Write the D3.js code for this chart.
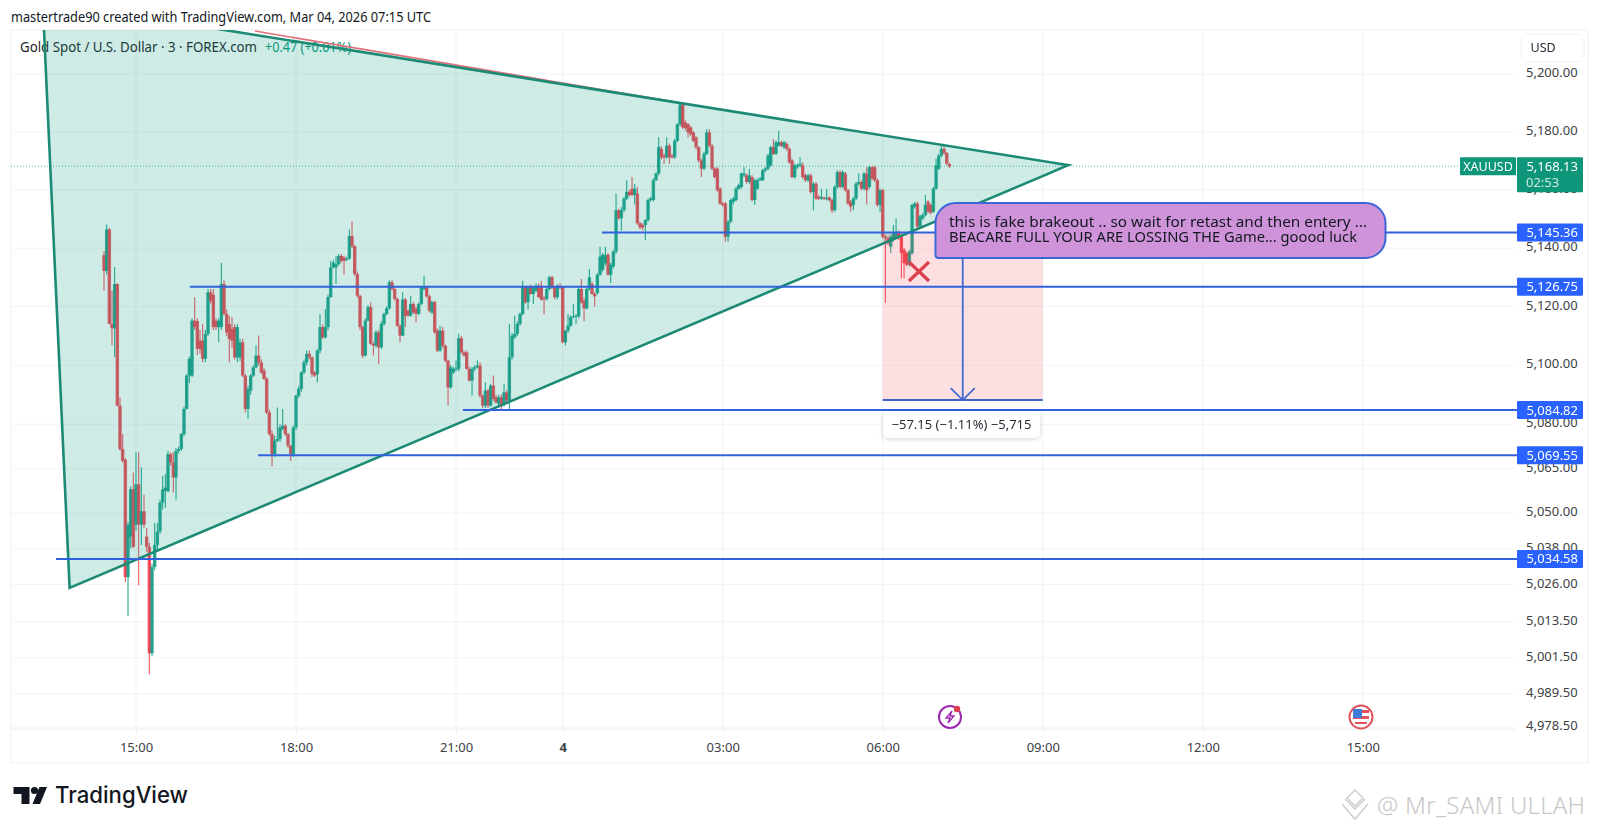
<!DOCTYPE html>
<html lang="en">
<head>
<meta charset="UTF-8">
<title>XAUUSD 3m triangle</title>
<style>
    body { margin: 0; background: #fff; font-family: 'Noto Sans', sans-serif; }
    svg { display: block; }
    .axis path { display: none; }
    .axis line { stroke: #eceef1; }
    .axis text { font-family: 'Noto Sans', sans-serif; fill: #3c3f46; font-size: 13px; }
</style>
</head>
<body>
<div id="chart"></div>
<script src="https://d3js.org/d3.v7.min.js"></script>
<script>
// candles, one row = 10 bars, bar 0 is 14:24 on Mar 3
var opens = [
5137.6,5132.2,5146.4,5114.1,5112.6,5127.7,5086.3,5071.6,5068,5028.5,
5042.1,5058,5046.1,5059.7,5046.1,5050.6,5042.1,5038.7,5003,5031.9,
5039.3,5043.8,5053.5,5057.4,5057.4,5069.9,5067.1,5062,5071,5071.6,
5076.7,5085.2,5096.5,5096.5,5115.2,5115,5108.4,5108.4,5102.2,5110.7,
5124.9,5124,5115.2,5113,5113,5127.7,5117.5,5114.1,5112.4,5113,
5102.7,5102.7,5107.8,5096.5,5085.2,5091.4,5096.5,5099.3,5103.3,5101,
5098.2,5095.4,5084,5076.7,5069.9,5074.4,5075,5078.4,5079.5,5076.7,
5072.7,5069.9,5078.9,5089.7,5092,5097.6,5101,5103.9,5102.7,5097.6,
5097,5105,5113,5109.5,5113,5123.2,5133.4,5133.4,5134.5,5137.3,
5136.8,5136.2,5136.4,5144.1,5140.7,5131.1,5123.7,5113,5103.3,5115.2,
5119.8,5107.3,5106.7,5111.2,5106.1,5114.1,5117.5,5119.4,5128.3,5126,
5122.6,5113.5,5110.1,5122.4,5118.6,5116.9,5120.9,5119.2,5117.5,5120.9,
5126,5126.6,5123.5,5118,5121.5,5111.8,5105,5111.8,5106.7,5101.6,
5092.5,5097.6,5098.8,5098.8,5109.2,5104.4,5104.4,5098.8,5094.8,5098.8,
5099.3,5099.9,5089.7,5086.3,5091.4,5086.3,5093.1,5089.1,5086.9,5089.1,
5086.9,5090.8,5088,5102.7,5109.5,5110.7,5114.1,5117.5,5126.6,5121.5,
5126.6,5124.3,5125.4,5127.1,5127.1,5122.8,5122.6,5126,5130,5126.6,
5123.2,5127.1,5126.6,5107.8,5111.8,5113.5,5116.4,5116.7,5116.7,5126,
5122,5119.4,5126,5127.7,5124.3,5124.6,5130.9,5132.6,5134.8,5137.7,
5130.9,5133.7,5138.8,5153,5150.2,5153,5157,5159.3,5160.4,5158.2,
5158.7,5148.5,5147.9,5147.9,5149.6,5156.5,5156.5,5163.3,5165.6,5174.1,
5171.8,5171.2,5175.2,5171.8,5171.2,5176.9,5182.6,5189.4,5183.2,5182.6,
5181.5,5179.8,5178.1,5174.7,5170.1,5167.3,5172.4,5179.8,5175.2,5167.3,
5167.3,5160.4,5155.3,5155.3,5143.9,5149.1,5155.9,5156.5,5160.4,5161,
5165,5165,5162.7,5164.4,5156.5,5160.4,5163.3,5163.3,5166.7,5167.3,
5168.4,5174.7,5172.4,5175.2,5176.4,5174.7,5175.8,5174.1,5170.1,5164.4,
5167.8,5168.4,5168.4,5165,5163.3,5165,5159.3,5162.1,5157.6,5157,
5157.3,5156.8,5157.3,5156.5,5153,5161,5166.1,5161,5165.6,5159.9,
5155.9,5154.8,5157,5162.1,5162.7,5160.4,5165.6,5161,5167.8,5167.8,
5163.3,5154.8,5159.9,5143.9,5143.4,5140.5,5142.8,5143.4,5145.6,5143.9,
5139.4,5138.3,5134.3,5138.3,5154.2,5155.3,5147.4,5150.2,5151.3,5155.9,
5154.8,5152.5,5160.4,5167.3,5171.8,5174.1,5172.7,5168.9
];
var highs = [
5139,5148.1,5147,5125.4,5133.4,5128,5089.1,5076.7,5068.5,5047,
5059,5063.7,5070.5,5070.5,5065.4,5056.3,5045,5040,5033,5046.7,
5046.7,5054.5,5062.5,5063.1,5071,5070.5,5070.5,5072,5072.5,5077,
5086,5097,5103,5116,5123.2,5116,5112,5114,5112,5126,
5126,5126,5116,5116,5135,5129,5119,5116.9,5116.4,5114,
5114,5109,5109,5097,5093,5097,5100,5106.7,5110.1,5102,
5099,5096,5085,5078,5076,5085.7,5080,5085.2,5080,5077,
5073,5079.5,5090,5093,5098,5102,5105,5105,5103,5098,
5105.5,5117.5,5114,5119.2,5124,5135.6,5136,5137.3,5138,5138,
5137.5,5137,5146.4,5149.2,5141,5132,5124,5113.5,5116,5120.5,
5121.5,5108,5112,5112,5115,5118,5120,5129,5129,5126.5,
5123,5114,5124.9,5123,5119,5123.7,5121.5,5120,5121.5,5127,
5130.5,5127,5124,5122,5122,5112.5,5113.5,5113,5107,5102,
5100,5099.5,5101.6,5110.7,5110,5105,5105,5099.5,5099.5,5100,
5101.6,5101,5090,5094.2,5092,5093.7,5096.5,5090,5090,5090,
5093.7,5091.5,5114.1,5111,5116.9,5115,5118,5128.8,5127,5127,
5127.5,5127,5128,5128,5128.8,5123.5,5126.5,5130.5,5130.5,5127,
5127.5,5128,5127,5112,5117.5,5117,5120.9,5117.5,5127,5129.4,
5123,5126.5,5132.8,5128.5,5125,5131.5,5140.5,5138.3,5140.5,5138.3,
5135,5139.4,5158.7,5153.5,5154,5157.5,5163.3,5160,5164.4,5162,
5161,5149,5148.5,5150,5157,5157.6,5164,5166,5178.1,5175,
5172.5,5178.1,5176,5172.4,5177.5,5183,5190,5190.2,5184,5183,
5182,5180.3,5178.5,5175,5170.7,5173,5180.9,5180.9,5175.8,5167.8,
5167.8,5161,5155.9,5155.9,5149.6,5157,5157.6,5161,5162.1,5166,
5167.8,5165.6,5167.3,5165,5163.9,5163.9,5164.4,5167.3,5167.8,5172.4,
5175.2,5177.5,5177,5180.3,5176.9,5176.9,5176.4,5174.7,5170.7,5169,
5169,5171.2,5169.5,5165.6,5165.6,5165.6,5162.7,5162.7,5158.2,5160.4,
5157.6,5160.4,5157.8,5157,5161.6,5166.7,5166.7,5166.7,5166.1,5160.4,
5156.5,5157.6,5162.7,5165.6,5163.3,5166.1,5167.8,5168.4,5168.4,5168.4,
5163.9,5160.4,5160.4,5144.5,5144,5144.5,5147.9,5150.2,5146,5144.5,
5140,5138.8,5139.4,5155.3,5155.9,5155.9,5151.4,5152,5158.2,5156.5,
5155.3,5161,5170.7,5172.4,5175.9,5175.9,5173,5169.3
];
var lows = [
5125.4,5131,5114,5106.7,5102.7,5086,5071,5067,5026.8,5015.5,
5038.2,5038.2,5044,5025.7,5039.3,5045,5037,4996,5002,5030.8,
5037.6,5043,5051.2,5051.8,5056.9,5066,5056.9,5054.6,5070,5071,
5076,5085,5094,5096,5112,5103.5,5104,5101,5101,5110,
5121,5112,5112,5107.8,5112,5117,5110,5101,5106,5102,
5101,5101.5,5096,5084,5081.8,5090,5096,5099,5100,5097,
5095,5083.5,5076,5065.9,5069,5074,5074,5078,5076,5072,
5067.6,5069,5078,5089,5091,5097,5100,5102,5096,5096,
5094.2,5104,5109,5109,5112,5123,5133,5127.7,5134,5135,
5131,5135.5,5136,5140,5130.5,5123,5112,5102.5,5103,5115,
5107,5103.3,5106,5100.5,5105.5,5113.5,5117,5119,5125.5,5122,
5113,5107.8,5110,5113,5116.5,5116.5,5117.5,5114.7,5117,5120.5,
5125.5,5123,5118,5117.5,5110.8,5104.5,5104.5,5106,5101,5086.3,
5092,5097,5098,5098,5104,5103,5098.5,5094.5,5089.7,5098,
5099,5089,5085.5,5085.5,5085.5,5086,5088,5087,5086,5084.5,
5086,5087.5,5085.2,5102,5109,5110,5113.5,5117,5121,5119,
5124,5120.9,5125,5123,5122,5117.5,5122,5125.5,5126,5122.5,
5122.5,5126,5107.5,5106.7,5111,5113,5116,5114.1,5116,5121,
5115,5119,5125.5,5124,5120,5124,5130.5,5132,5134,5130.5,
5128,5133,5138,5149.8,5146,5152.5,5156.5,5157.8,5157.8,5155,
5148,5146.5,5146,5142.8,5149,5156,5156,5163,5165,5170.5,
5169,5170.7,5169,5170.7,5170.7,5176.5,5182,5181,5180.5,5178,
5178.5,5176.4,5174,5169.5,5164.4,5166.7,5172,5174.7,5166.7,5163.9,
5159.3,5154.8,5154.2,5142.2,5142.2,5148.5,5155,5156,5160,5160.5,
5164.4,5162.1,5162.1,5156,5154.8,5160,5163,5163,5166.1,5166.7,
5168,5172,5172,5175,5174.7,5174.1,5173.5,5169,5163.9,5163.9,
5167.3,5167.8,5163.9,5162.7,5162.7,5158.7,5153,5156.5,5156.5,5156.5,
5156.5,5156.3,5156,5152,5152.5,5160.5,5160.5,5160.5,5159.3,5154.8,
5152.5,5153,5156.5,5161.6,5159.9,5159.9,5155,5160.4,5163.3,5162.7,
5154.2,5152.5,5143.4,5121.3,5141,5138.3,5142.2,5143,5142.8,5129.7,
5129.7,5133.7,5133.7,5137.7,5153.6,5146.8,5146.8,5149.6,5150.8,5152,
5151.5,5152,5160,5166.7,5171.2,5172,5168.5,5167.5
];
var closes = [
5132.2,5146.4,5114.1,5112.6,5127.7,5086.3,5071.6,5067.6,5028.5,5046.1,
5058,5038.7,5059.7,5046.1,5050.6,5046.1,5038.7,5003,5031.9,5039.3,
5043.8,5053.5,5058,5058.6,5069.9,5067.1,5062,5071,5071.6,5076.7,
5085.2,5096.5,5102.2,5115.2,5113,5105.6,5105.6,5102.2,5110.7,5124.9,
5122,5113,5113,5115.2,5127.7,5117.5,5111.2,5109,5108.4,5102.7,
5113,5107.8,5096.5,5085.2,5092,5096.5,5099.3,5103.3,5101,5097.6,
5095.4,5084,5076.7,5069.9,5074.4,5075,5078.9,5079.5,5076.7,5072.7,
5069.9,5078.9,5089.7,5092,5097.6,5101,5103.9,5102.7,5097,5096.5,
5105,5113,5109.5,5113,5123.2,5133.4,5135,5134.5,5137.3,5135.6,
5135.6,5136.4,5144.1,5140.7,5131.1,5123.7,5113,5103.3,5115.2,5119.8,
5107.3,5106.7,5111.2,5106.1,5114.1,5117.5,5119.4,5128.3,5126,5122.6,
5113.5,5110.1,5122.4,5116.9,5116.9,5120.9,5118,5117.5,5120.9,5126.6,
5126.6,5123.5,5118.6,5121.5,5111.2,5105,5111.8,5106.7,5101.6,5092.5,
5099.3,5098.8,5098.9,5109.2,5104.4,5103.3,5098.8,5094.8,5098.8,5099.3,
5099.9,5089.7,5086.3,5091.4,5086.3,5093.1,5088.6,5087.4,5089.1,5086.3,
5090.8,5088,5102.7,5110.1,5110.7,5114.1,5117.5,5126.6,5121.5,5126.6,
5124.3,5126.6,5127.1,5123.2,5122.4,5122.4,5126,5130,5126.6,5123.2,
5127.1,5126.6,5107.8,5111.8,5113.5,5116.4,5116.7,5116.9,5126,5121.5,
5119.4,5126,5130,5124.3,5123.5,5130.9,5137.1,5137.7,5137.7,5130.9,
5134.3,5138.8,5153,5150.2,5153,5157,5159.3,5158.2,5158.2,5160.4,
5148.5,5147.1,5147.1,5149.6,5156.5,5157,5163.3,5165.6,5174.7,5171.2,
5171.2,5175.2,5171.2,5171.2,5176.9,5182.6,5189.4,5181.5,5181.3,5179.8,
5179.2,5176.9,5174.7,5170.1,5167.3,5172.4,5179.8,5175.2,5167.3,5164.4,
5159.9,5155.3,5154.8,5143.9,5149.1,5156.5,5157,5160.4,5161.6,5165.6,
5165.6,5162.7,5165,5156.5,5163.3,5163.3,5163.9,5166.7,5167.3,5171.8,
5174.7,5172.4,5176.4,5176.4,5175.2,5176.4,5174.1,5169.5,5164.4,5168.4,
5168.4,5169,5164.4,5163.3,5165,5159.3,5162.1,5157,5157,5157.6,
5157,5157.3,5156.5,5153,5161,5166.1,5161,5166.1,5159.9,5155.3,
5154.2,5157,5162.1,5162.7,5160.4,5165.6,5159.9,5167.8,5163.9,5163.3,
5154.8,5159.9,5143.9,5143.4,5141.7,5143.9,5145.1,5145.6,5143.4,5138.3,
5134.8,5134.3,5138.8,5154.8,5155.3,5147.4,5150.8,5151.3,5154.8,5152.5,
5152.1,5160.4,5168.4,5171.8,5174.1,5172.7,5169,5168.13
];

// axes
var priceTicks = [5200,5180,5160,5140,5120,5100,5080,5065,5050,5038,5026,5013.5,5001.5,4989.5,4978.5];
var timeTicks = [12,72,132,172,232,292,352,412,472];
var timeLabels = ["15:00","18:00","21:00","4","03:00","06:00","09:00","12:00","15:00"];

// drawings: [bar, price]
var triangle = [[-23,5225.4],[361.6,5168.5],[-12.9,5024.9]];
var redTrend = [[56.6,5214.9],[216,5190]];
var levels = [5145.36,5126.75,5084.82,5069.55,5034.58];
var levelStarts = [186.7,32.2,134.6,57.8,-18];
var lastPrice = 5168.13;
var measureBars = [292,352];
var measurePrices = [5145.36,5088.21];
var measureText = "\u221257.15 (\u22121.11%) \u22125,715";
var noteLines = ["this is fake brakeout .. so wait for retast and then entery ...",
                 "BEACARE FULL YOUR ARE LOSSING THE Game... goood luck"];

var w = 1600, h = 829;
var pane = {left: 11, right: 1515, top: 30, bottom: 729, axisRight: 1588, axisBottom: 763};

var x = d3.scaleLinear().domain([0, 317]).range([104, 949.4]);
var y = d3.scaleLog().domain([5200, 4978.5]).range([74, 727]);
var fmt = d3.format(",.2f");

var svg = d3.select("#chart").append("svg").attr("width", w).attr("height", h);
var defs = svg.append("defs");

defs.append("clipPath").attr("id", "paneClip").append("rect")
    .attr("x", pane.left).attr("y", pane.top)
    .attr("width", pane.right - pane.left).attr("height", pane.bottom - pane.top);

var shadow = defs.append("filter").attr("id", "soft")
    .attr("x", "-10%").attr("y", "-30%").attr("width", "120%").attr("height", "170%");
shadow.append("feDropShadow").attr("dx", 0).attr("dy", 1).attr("stdDeviation", 2)
    .attr("flood-color", "#000").attr("flood-opacity", 0.18);

// the reference is a soft jpeg, candles blur into each other
defs.append("filter").attr("id", "blurry").append("feGaussianBlur").attr("stdDeviation", 0.4);

// frame
svg.append("rect").attr("x", pane.left).attr("y", pane.top)
    .attr("width", pane.axisRight - pane.left).attr("height", pane.axisBottom - pane.top)
    .attr("fill", "#fff").attr("stroke", "#eff0f3");
svg.append("line").attr("x1", pane.left).attr("x2", pane.right)
    .attr("y1", pane.bottom).attr("y2", pane.bottom).attr("stroke", "#eceef1");

// grid
svg.append("g").selectAll("line").data(priceTicks).join("line")
    .attr("x1", pane.left).attr("x2", pane.right)
    .attr("y1", d => y(d)).attr("y2", d => y(d)).attr("stroke", "#f3f4f6");
svg.append("g").selectAll("line").data(timeTicks).join("line")
    .attr("x1", d => x(d)).attr("x2", d => x(d))
    .attr("y1", pane.top).attr("y2", pane.bottom).attr("stroke", "#f3f4f6");

// axes
var pAxis = svg.append("g").attr("class", "axis").attr("transform", "translate(1518,0)")
    .call(d3.axisRight(y).tickValues(priceTicks).tickSize(0).tickPadding(8).tickFormat(fmt));
pAxis.selectAll("text").attr("transform", "translate(0,-1.5)");
var tAxis = svg.append("g").attr("class", "axis").attr("transform", "translate(0," + pane.bottom + ")")
    .call(d3.axisBottom(x).tickValues(timeTicks).tickSize(4).tickPadding(10)
        .tickFormat((d, i) => timeLabels[i]));
tAxis.selectAll("text").style("font-weight", (d, i) => timeLabels[i] == "4" ? 700 : 400);

// legend
svg.append("text").attr("x", 11).attr("y", 22).attr("font-size", 14).attr("fill", "#131722")
    .attr("textLength", 420).attr("lengthAdjust", "spacingAndGlyphs")
    .text("mastertrade90 created with TradingView.com, Mar 04, 2026 07:15 UTC");
svg.append("text").attr("x", 20).attr("y", 52).attr("font-size", 13.5).attr("fill", "#1f222b")
    .attr("textLength", 237).attr("lengthAdjust", "spacingAndGlyphs")
    .text("Gold Spot / U.S. Dollar \u00b7 3 \u00b7 FOREX.com");
svg.append("text").attr("x", 265).attr("y", 52).attr("font-size", 13.5).attr("fill", "#089981")
    .attr("textLength", 86).attr("lengthAdjust", "spacingAndGlyphs").text("+0.47 (+0.01%)");

var chart = svg.append("g").attr("clip-path", "url(#paneClip)");

// last price dotted line
chart.append("line").attr("x1", pane.left).attr("x2", pane.right)
    .attr("y1", y(lastPrice)).attr("y2", y(lastPrice))
    .attr("stroke", "#089981").attr("stroke-dasharray", "1,2").attr("opacity", 0.7);

// candles
var up = "#089981", down = "#f23645";
var candles = chart.append("g").attr("filter", "url(#blurry)")
    .selectAll("g").data(d3.range(closes.length)).join("g")
    .attr("fill", i => closes[i] >= opens[i] ? up : down)
    .attr("stroke", i => closes[i] >= opens[i] ? up : down);
candles.append("line")
    .attr("x1", i => x(i)).attr("x2", i => x(i))
    .attr("y1", i => y(Math.max(highs[i], opens[i], closes[i])))
    .attr("y2", i => y(Math.min(lows[i], opens[i], closes[i])))
    .attr("stroke-width", 1.1).attr("opacity", 0.85);
candles.append("rect")
    .attr("x", i => x(i) - 1.7).attr("width", 3.4)
    .attr("y", i => y(Math.max(opens[i], closes[i])))
    .attr("height", i => Math.max(1, Math.abs(y(opens[i]) - y(closes[i]))))
    .attr("stroke", "none").attr("opacity", 0.82);

// pink measure box
chart.append("rect")
    .attr("x", x(measureBars[0])).attr("width", x(measureBars[1]) - x(measureBars[0]))
    .attr("y", y(measurePrices[0])).attr("height", y(measurePrices[1]) - y(measurePrices[0]))
    .attr("fill", "#f23645").attr("opacity", 0.16);

// trend lines and triangle
var line = d3.line().x(d => x(d[0])).y(d => y(d[1]));
chart.append("path").attr("d", line(redTrend)).attr("stroke", "#e0707a")
    .attr("stroke-width", 1.6).attr("fill", "none");
chart.append("path").attr("d", line(triangle) + "Z")
    .attr("fill", "#089981").attr("fill-opacity", 0.2)
    .attr("stroke", "#1c8a74").attr("stroke-width", 2.6).attr("stroke-linejoin", "miter");

// blue levels
var blue = "#2f62dc";
chart.append("g").selectAll("line").data(levels).join("line")
    .attr("x1", (d, i) => x(levelStarts[i])).attr("x2", pane.right)
    .attr("y1", d => y(d)).attr("y2", d => y(d))
    .attr("stroke", blue).attr("stroke-width", 2);

// measure arrow
var mx = x((measureBars[0] + measureBars[1]) / 2);
var my = y(measurePrices[1]);
chart.append("line").attr("x1", x(measureBars[0])).attr("x2", x(measureBars[1]))
    .attr("y1", my).attr("y2", my).attr("stroke", "#3f63c4").attr("stroke-width", 2.2);
chart.append("line").attr("x1", mx).attr("x2", mx).attr("y1", y(measurePrices[0])).attr("y2", my)
    .attr("stroke", "#4069d2").attr("stroke-width", 1.8);
chart.append("path").attr("d", "M" + (mx - 12) + "," + (my - 12) + "L" + mx + "," + my + "L" + (mx + 12) + "," + (my - 12))
    .attr("fill", "none").attr("stroke", "#4069d2").attr("stroke-width", 1.8);

// measure label
svg.append("rect").attr("x", 883).attr("y", 411).attr("width", 157).attr("height", 27).attr("rx", 5)
    .attr("fill", "#fff").attr("filter", "url(#soft)");
svg.append("text").attr("x", 961.5).attr("y", 428.5).attr("text-anchor", "middle")
    .attr("font-size", 13).attr("fill", "#2a2e39").text(measureText);

// red cross
var cross = svg.append("g").attr("stroke", "#dc3f4d").attr("stroke-width", 3.2);
cross.append("line").attr("x1", 909).attr("y1", 262).attr("x2", 929).attr("y2", 281);
cross.append("line").attr("x1", 929).attr("y1", 262).attr("x2", 909).attr("y2", 281);

// callout
var p = d3.path(), bx0 = 935.5, bx1 = 1385.5, by0 = 203, by1 = 258, r = 20;
p.moveTo(bx0 + r, by0);
p.lineTo(bx1 - r, by0);
p.arcTo(bx1, by0, bx1, by0 + r, r);
p.lineTo(bx1, by1 - r);
p.arcTo(bx1, by1, bx1 - r, by1, r);
p.lineTo(bx0 + 3, by1);
p.arcTo(bx0, by1, bx0, by1 - 3, 3);
p.lineTo(bx0, by0 + r);
p.arcTo(bx0, by0, bx0 + r, by0, r);
p.closePath();
svg.append("path").attr("d", p.toString()).attr("fill", "#ce93d8")
    .attr("stroke", "#3b66d8").attr("stroke-width", 2);
svg.selectAll(".note").data(noteLines).join("text").attr("class", "note")
    .attr("x", 949).attr("y", (d, i) => 227 + i * 15)
    .attr("font-size", 14.2).attr("fill", "#131722").attr("lengthAdjust", "spacingAndGlyphs")
    .attr("textLength", (d, i) => i == 0 ? 418 : 408).text(d => d);

// price labels on the axis
svg.append("rect").attr("x", 1460).attr("y", y(lastPrice) - 9).attr("width", 56).attr("height", 18)
    .attr("rx", 1).attr("fill", "#0d9679");
svg.append("text").attr("x", 1488).attr("y", y(lastPrice) + 4.5).attr("text-anchor", "middle")
    .attr("font-size", 12.5).attr("fill", "#fff").text("XAUUSD");
svg.append("rect").attr("x", 1517).attr("y", y(lastPrice) - 9).attr("width", 66).attr("height", 35)
    .attr("rx", 1).attr("fill", "#0d9679");
svg.append("text").attr("x", 1578).attr("y", y(lastPrice) + 4.5).attr("text-anchor", "end")
    .attr("font-size", 13).attr("fill", "#fff").text(fmt(lastPrice));
svg.append("text").attr("x", 1526).attr("y", y(lastPrice) + 20.5)
    .attr("font-size", 13).attr("fill", "#cfe9e2").text("02:53");

svg.append("g").selectAll("rect").data(levels).join("rect")
    .attr("x", 1517).attr("y", d => y(d) - 9).attr("width", 66).attr("height", 18).attr("rx", 1)
    .attr("fill", "#2962ff");
svg.append("g").selectAll("text").data(levels).join("text")
    .attr("x", 1578).attr("y", d => y(d) + 4.5).attr("text-anchor", "end")
    .attr("font-size", 13).attr("fill", "#fff").text(d => fmt(d));
svg.append("g").selectAll("line").data(levels).join("line")
    .attr("x1", pane.right).attr("x2", 1517).attr("y1", d => y(d)).attr("y2", d => y(d))
    .attr("stroke", blue).attr("stroke-width", 2);

// currency box
svg.append("rect").attr("x", 1521).attr("y", 34).attr("width", 63).attr("height", 28).attr("rx", 5)
    .attr("fill", "#fff").attr("stroke", "#f0f1f3");
svg.append("text").attr("x", 1530.5).attr("y", 52).attr("font-size", 12.5).attr("fill", "#2a2e39").text("USD");

// event markers
var ev = svg.append("g").attr("transform", "translate(950,717)");
ev.append("circle").attr("r", 11).attr("fill", "#fff").attr("stroke", "#9c27b0").attr("stroke-width", 2);
ev.append("path").attr("d", "M2,-6L-4,1H0L-2,6L4,-1H0Z").attr("fill", "none")
    .attr("stroke", "#9c27b0").attr("stroke-width", 1.3);
ev.append("circle").attr("cx", 7).attr("cy", -8).attr("r", 3.2).attr("fill", "#e0404e");

var flag = svg.append("g").attr("transform", "translate(1361,717)");
flag.append("circle").attr("r", 11.5).attr("fill", "#fff").attr("stroke", "#e0525c").attr("stroke-width", 2);
flag.append("rect").attr("x", -8).attr("y", -7).attr("width", 16).attr("height", 3).attr("fill", "#e0525c");
flag.append("rect").attr("x", -8).attr("y", -1).attr("width", 16).attr("height", 3).attr("fill", "#e0525c");
flag.append("rect").attr("x", -8).attr("y", -8).attr("width", 9).attr("height", 9).attr("fill", "#3f7bd9");
flag.append("rect").attr("x", -6).attr("y", 5).attr("width", 12).attr("height", 2).attr("fill", "#e0525c");

// tradingview logo
var logo = svg.append("g").attr("fill", "#131722");
logo.append("path").attr("d", "M13.5,787H29.5V804H21.5V794H13.5Z");
logo.append("circle").attr("cx", 34.5).attr("cy", 790.5).attr("r", 3.6);
logo.append("path").attr("d", "M39.5,787H47L40,804H32.5Z");
svg.append("text").attr("x", 55).attr("y", 803).attr("font-family", "Inter, sans-serif")
    .attr("font-weight", 500).attr("font-size", 22.5).attr("fill", "#131722")
    .attr("textLength", 133).attr("lengthAdjust", "spacingAndGlyphs").text("TradingView");

// watermark
var mark = svg.append("g").attr("fill", "none").attr("stroke", "#d0d0d0").attr("stroke-width", 1.6)
    .attr("transform", "translate(-2,2)");
mark.append("path").attr("d", "M1357,788l8,8l-8,8l-8,-8Z");
mark.append("path").attr("d", "M1347,797l10,10l10,-10M1344,802l13,15l13,-15");
svg.append("text").attr("x", 1377).attr("y", 814).attr("font-size", 24).attr("font-weight", 300)
    .attr("fill", "#c8c8c8").attr("textLength", 208).text("@ Mr_SAMI ULLAH");
</script>
</body>
</html>
